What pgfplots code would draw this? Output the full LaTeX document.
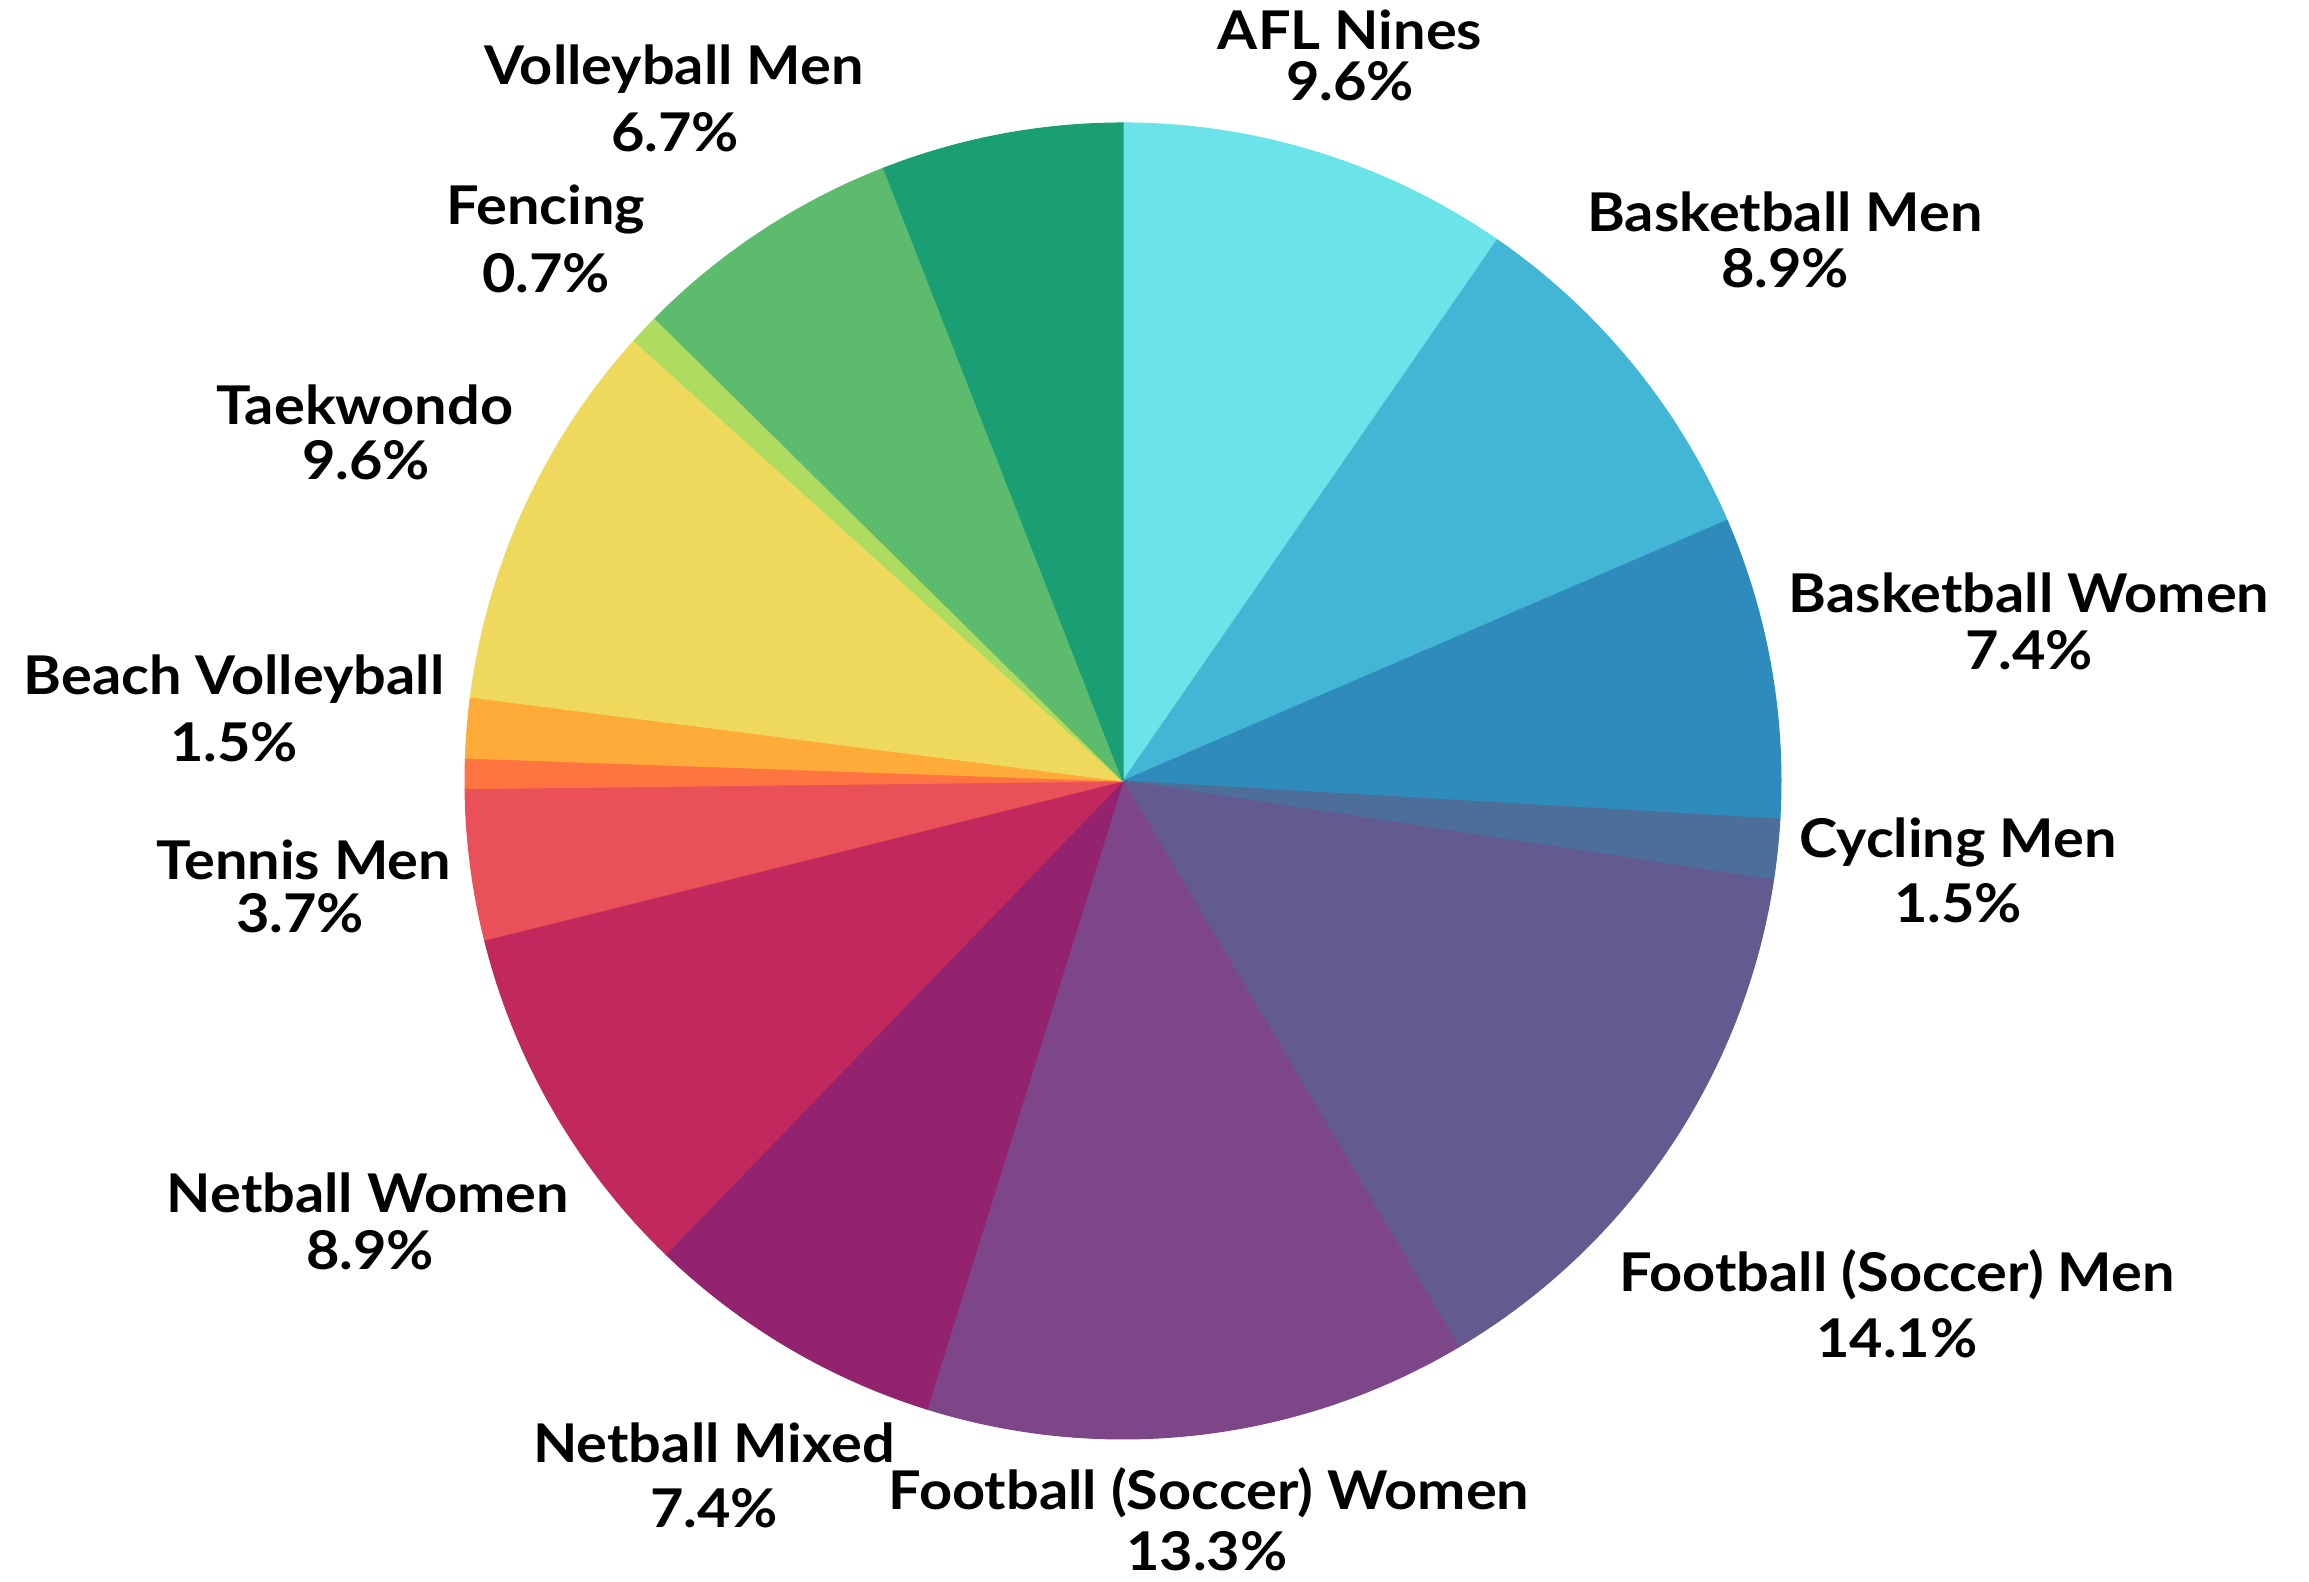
\documentclass[border=0pt]{standalone}
\usepackage{pgfplots}
\pgfplotsset{compat=1.18}
\usepackage{fontspec}
\setmainfont{Lato}[FakeStretch=1.08]
\definecolor{cA}{HTML}{6AE4E8}
\definecolor{cB}{HTML}{43B6D6}
\definecolor{cC}{HTML}{2E8BBB}
\definecolor{cD}{HTML}{4C6E98}
\definecolor{cE}{HTML}{635B8F}
\definecolor{cF}{HTML}{7D4689}
\definecolor{cG}{HTML}{93226F}
\definecolor{cH}{HTML}{C0285E}
\definecolor{cI}{HTML}{EA5058}
\definecolor{cJ}{HTML}{FF7542}
\definecolor{cK}{HTML}{FEAB3A}
\definecolor{cL}{HTML}{EED95C}
\definecolor{cM}{HTML}{AEDC60}
\definecolor{cN}{HTML}{5DBB6D}
\definecolor{cO}{HTML}{1A9E74}
\begin{document}
\begin{tikzpicture}
\begin{axis}[width=230.9mm,height=158.2mm,scale only axis,
  xmin=0,xmax=2309,ymin=0,ymax=1582,hide axis,clip=false]
\path (rel axis cs:0,0) rectangle (rel axis cs:1,1);
\pgfplotsextra{
  \xdef\startang{90}
  \foreach \v/\c in {13/cA,12/cB,10/cC,2/cD,19/cE,18/cF,10/cG,12/cH,5/cI,1/cJ,2/cK,13/cL,1/cM,9/cN,8/cO}{
    \pgfmathsetmacro\endang{\startang-360*\v/135}
    \filldraw[fill=\c,draw=\c,line width=0.3pt,line join=round]
      (axis cs:1123,801) -- ++(\startang:65.8mm)
      arc[start angle=\startang,end angle=\endang,radius=65.8mm] -- cycle;
    \xdef\startang{\endang}
  }
}
\tikzset{lab/.style={anchor=base,inner sep=0pt,font=\fontsize{15.2pt}{16pt}\selectfont\bfseries}}
\node[lab] at (axis cs:1350,1532) {AFL Nines};
\node[lab] at (axis cs:1350,1481) {9.6\%};
\node[lab] at (axis cs:1785,1350) {Basketball Men};
\node[lab] at (axis cs:1785,1294) {8.9\%};
\node[lab] at (axis cs:2029,969) {Basketball Women};
\node[lab] at (axis cs:2029,912) {7.4\%};
\node[lab] at (axis cs:1958,724) {Cycling Men};
\node[lab] at (axis cs:1958,659) {1.5\%};
\node[lab] at (axis cs:1897,290) {Football (Soccer) Men};
\node[lab] at (axis cs:1897,224) {14.1\%};
\node[lab] at (axis cs:1209,72) {Football (Soccer) Women};
\node[lab] at (axis cs:1207,11) {13.3\%};
\node[lab] at (axis cs:714,119) {Netball Mixed};
\node[lab] at (axis cs:714,54) {7.4\%};
\node[lab] at (axis cs:368,369) {Netball Women};
\node[lab] at (axis cs:370,312) {8.9\%};
\node[lab] at (axis cs:304,702) {Tennis Men};
\node[lab] at (axis cs:300,649) {3.7\%};
\node[lab] at (axis cs:234,887) {Beach Volleyball};
\node[lab] at (axis cs:234,820) {1.5\%};
\node[lab] at (axis cs:365,1157) {Taekwondo};
\node[lab] at (axis cs:366,1102) {9.6\%};
\node[lab] at (axis cs:546,1357) {Fencing};
\node[lab] at (axis cs:546,1289) {0.7\%};
\node[lab] at (axis cs:674,1497) {Volleyball Men};
\node[lab] at (axis cs:675,1430) {6.7\%};
\end{axis}
\end{tikzpicture}
\end{document}
